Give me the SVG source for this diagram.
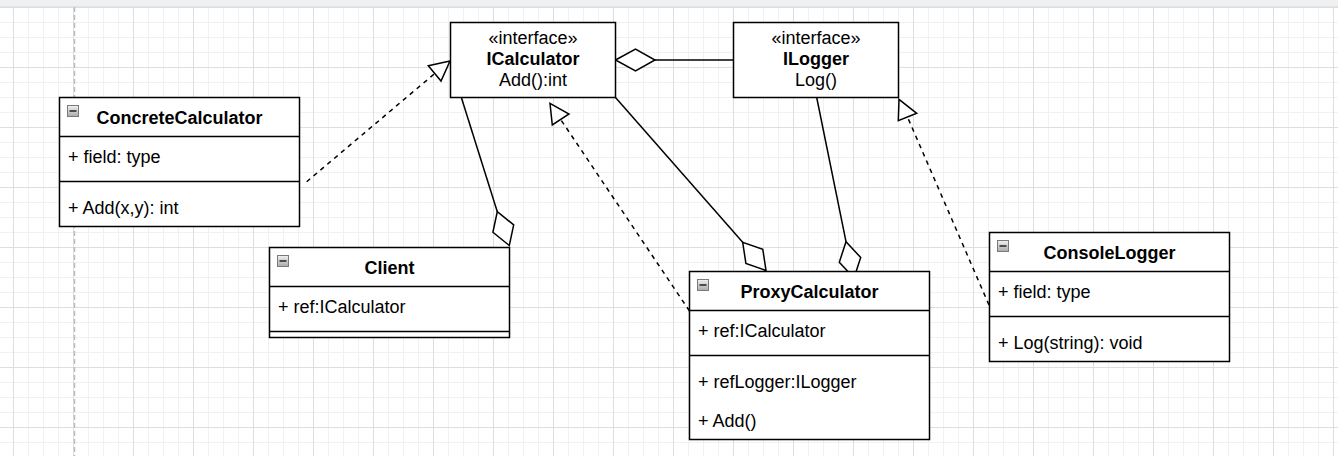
<svg xmlns="http://www.w3.org/2000/svg" width="1338" height="456" viewBox="0 0 1338 456">
  <defs>
    <pattern id="grid" patternUnits="userSpaceOnUse" x="13" y="7" width="60" height="60">
      <path d="M15.5 0V60M30.5 0V60M45.5 0V60M0 15.5H60M0 30.5H60M0 45.5H60" stroke="#f1f1f1" stroke-width="1" fill="none"/>
      <path d="M0.5 0V60M0 0.5H60" stroke="#dedede" stroke-width="1" fill="none"/>
    </pattern>
    <linearGradient id="iconGrad" x1="0" y1="0" x2="0" y2="1">
      <stop offset="0" stop-color="#f2f2f2"/>
      <stop offset="1" stop-color="#a9a9a9"/>
    </linearGradient>
    <g id="icon">
      <rect x="0.5" y="0.5" width="11" height="11" fill="url(#iconGrad)" stroke="#7a7a7a" stroke-width="1"/>
      <path d="M2.5 6H9.5" stroke="#222" stroke-width="1.5"/>
    </g>
  </defs>
  <style>
    .box { fill: #ffffff; stroke: #000000; stroke-width: 1.5; }
    .sep { stroke: #000000; stroke-width: 1.5; fill: none; }
    .title { font-family: "Liberation Sans", Arial, sans-serif; font-size: 18px; font-weight: bold; fill: #000; text-anchor: middle; }
    .txt { font-family: "Liberation Sans", Arial, sans-serif; font-size: 18px; fill: #000; }
    .ctr { text-anchor: middle; }
    .line { stroke: #000; stroke-width: 1.5; fill: none; }
    .dash { stroke: #000; stroke-width: 1.5; fill: none; stroke-dasharray: 4.5 4.5; }
    .head { stroke: #000; stroke-width: 1.5; fill: #ffffff; stroke-linejoin: miter; }
  </style>

  <!-- background -->
  <rect x="0" y="0" width="1338" height="456" fill="#ffffff"/>
  <rect x="0" y="7" width="1338" height="449" fill="url(#grid)"/>
  <rect x="0" y="0" width="1338" height="6" fill="#eff0f2"/>
  <path d="M0 6.5H1338" stroke="#e2e3e5" stroke-width="1"/>
  <path d="M74.5 7V456" stroke="#bdbdbd" stroke-width="1.5" stroke-dasharray="5 3"/>

  <!-- connectors -->
  <g id="connectors">
    <!-- ICalculator <>- ILogger -->
    <path class="line" d="M655 60H733.5"/>
    <polygon class="head" points="615.5,60 635.5,49.2 655,60 635.5,70.8"/>
    <!-- ConcreteCalculator ..|> ICalculator -->
    <path class="dash" d="M306.7 181.7L435 73.3"/>
    <polygon class="head" points="450,61 428.3,65.7 441,81"/>
    <!-- Client <>- ICalculator -->
    <path class="line" d="M461.5 98L497.3 211.7"/>
    <polygon class="head" points="509.3,245.5 492.9,232.3 497.3,211.7 513.7,224.9"/>
    <!-- ProxyCalculator ..|> ICalculator -->
    <path class="dash" d="M689.5 311L560.7 119.5"/>
    <polygon class="head" points="550,103.3 569,114 552.3,125"/>
    <!-- ProxyCalculator <>- ICalculator -->
    <path class="line" d="M615.5 97.5L742.7 242.3"/>
    <polygon class="head" points="766,270.5 745.9,263.4 742.7,242.3 762.8,249.4"/>
    <!-- ProxyCalculator <>- ILogger -->
    <path class="line" d="M816.7 97.5L846 241.7"/>
    <polygon class="head" points="854,278 839.3,262.3 846,241.7 860.7,257.5"/>
    <!-- ConsoleLogger ..|> ILogger -->
    <path class="dash" d="M989 305L907.5 117"/>
    <polygon class="head" points="899,99.3 916.7,113.3 898.3,120.7"/>
  </g>

  <!-- ICalculator -->
  <g id="ICalculator">
    <rect class="box" x="450.5" y="22.5" width="165" height="75"/>
    <text class="txt ctr" x="533" y="43.5">«interface»</text>
    <text class="title" x="533" y="64.5">ICalculator</text>
    <text class="txt ctr" x="533" y="86">Add():int</text>
  </g>

  <!-- ILogger -->
  <g id="ILogger">
    <rect class="box" x="733.5" y="22.5" width="165" height="75"/>
    <text class="txt ctr" x="816" y="43.5">«interface»</text>
    <text class="title" x="816" y="64.5">ILogger</text>
    <text class="txt ctr" x="816" y="86">Log()</text>
  </g>

  <!-- ConcreteCalculator -->
  <g id="ConcreteCalculator">
    <rect class="box" x="59.5" y="97.5" width="240" height="129"/>
    <path class="sep" d="M59.5 136.5H299.5M59.5 181.5H299.5"/>
    <use href="#icon" x="67" y="105"/>
    <text class="title" x="179.5" y="123.5">ConcreteCalculator</text>
    <text class="txt" x="68" y="162.5">+ field: type</text>
    <text class="txt" x="68" y="213.5">+ Add(x,y): int</text>
  </g>

  <!-- Client -->
  <g id="Client">
    <rect class="box" x="269.5" y="247.5" width="240" height="90"/>
    <path class="sep" d="M269.5 286.5H509.5M269.5 331.5H509.5"/>
    <use href="#icon" x="277" y="255"/>
    <text class="title" x="389.5" y="273.5">Client</text>
    <text class="txt" x="278" y="312.5">+ ref:ICalculator</text>
  </g>

  <!-- ProxyCalculator -->
  <g id="ProxyCalculator">
    <rect class="box" x="689.5" y="271.5" width="240" height="168"/>
    <path class="sep" d="M689.5 310.5H929.5M689.5 355.5H929.5"/>
    <use href="#icon" x="697" y="279"/>
    <text class="title" x="809.5" y="297.5">ProxyCalculator</text>
    <text class="txt" x="698" y="336.5">+ ref:ICalculator</text>
    <text class="txt" x="698" y="387.5">+ refLogger:ILogger</text>
    <text class="txt" x="698" y="426.5">+ Add()</text>
  </g>

  <!-- ConsoleLogger -->
  <g id="ConsoleLogger">
    <rect class="box" x="989.5" y="232.5" width="240" height="129"/>
    <path class="sep" d="M989.5 271.5H1229.5M989.5 316.5H1229.5"/>
    <use href="#icon" x="997" y="240"/>
    <text class="title" x="1109.5" y="258.5">ConsoleLogger</text>
    <text class="txt" x="998" y="297.5">+ field: type</text>
    <text class="txt" x="998" y="348.5">+ Log(string): void</text>
  </g>
</svg>
